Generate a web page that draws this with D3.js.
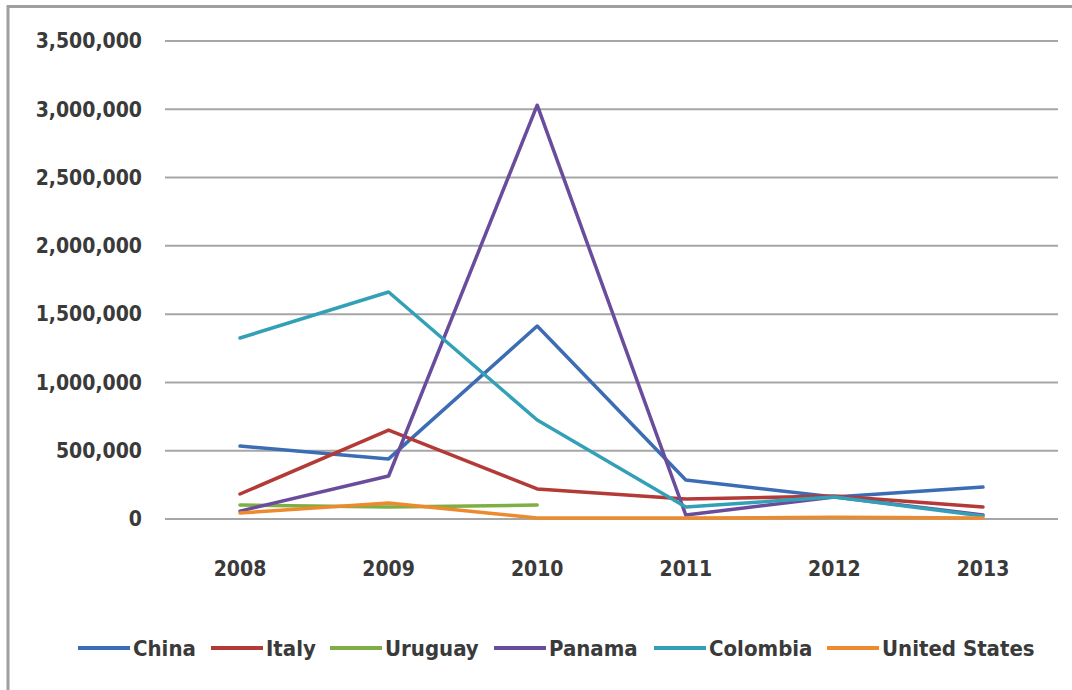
<!DOCTYPE html>
<html><head><meta charset="utf-8">
<script src="https://cdn.jsdelivr.net/npm/d3@7"></script>
<style>
body{margin:0;background:#fff;}
svg text{font-family:"DejaVu Sans Condensed",sans-serif;font-weight:bold;fill:#3a3a3a;}
</style></head>
<body><svg id="c" width="1072" height="690"></svg>
<script>
const years = ["2008","2009","2010","2011","2012","2013"];
const china   = [534000, 440000, 1413000, 285000, 161000, 234000];
const italy   = [183000, 651000, 220000, 146000, 168000, 88000];
const uruguay = [102000, 88000, 102000, null, null, null];
const panama  = [58000, 315000, 3030000, 29000, 161000, 30000];
const colombia= [1325000, 1662000, 725000, 88000, 161000, 22000];
const usa     = [44000, 117000, 7000, 7000, 12000, 7000];
const seriesNames = ["China","Italy","Uruguay","Panama","Colombia","United States"];
const seriesColors = ["#3c6cb4","#b33a36","#7fae45","#6a4c9c","#34a0b8","#ee8a2e"];
const yTicks = [0,500000,1000000,1500000,2000000,2500000,3000000,3500000];

const series = [china, italy, uruguay, panama, colombia, usa];
const svg = d3.select("#c");
// frame
svg.append("path").attr("d","M8,690 V6.5 H1072").attr("fill","none").attr("stroke","#a0a0a0").attr("stroke-width",3);

const x = d3.scalePoint().domain(years).range([240,983]);
const y = d3.scaleLinear().domain([0,3500000]).range([519,41]);

// gridlines
svg.append("g").selectAll("line").data(yTicks).join("line")
  .attr("x1",165).attr("x2",1058).attr("y1",d=>y(d)).attr("y2",d=>y(d))
  .attr("stroke","#a6a6a6").attr("stroke-width",2);

// y labels
const fmt = d3.format(",");
svg.append("g").selectAll("text").data(yTicks).join("text")
  .attr("x",142).attr("y",d=>y(d)).attr("dy","0.35em")
  .attr("text-anchor","end").attr("font-size",21).text(d=>fmt(d));

// x labels
svg.append("g").selectAll("text").data(years).join("text")
  .attr("x",d=>x(d)).attr("y",576).attr("text-anchor","middle").attr("font-size",21).text(d=>d);

const line = d3.line().defined(d=>d.v!=null).x(d=>x(d.yr)).y(d=>y(d.v));
series.forEach((s,i)=>{
  svg.append("path").datum(years.map((yr,j)=>({yr,v:s[j]})))
    .attr("d",line).attr("fill","none").attr("stroke",seriesColors[i])
    .attr("stroke-width",3.5).attr("stroke-linejoin","round").attr("stroke-linecap","round");
});

// legend
const legX = [78,211,330,494,654,827];
const lg = svg.append("g");
seriesNames.forEach((n,i)=>{
  lg.append("line").attr("x1",legX[i]).attr("x2",legX[i]+52).attr("y1",648).attr("y2",648)
    .attr("stroke",seriesColors[i]).attr("stroke-width",4);
  lg.append("text").attr("x",legX[i]+55).attr("y",648).attr("dy","0.35em")
    .attr("font-size",22).text(n);
});
</script></body></html>
